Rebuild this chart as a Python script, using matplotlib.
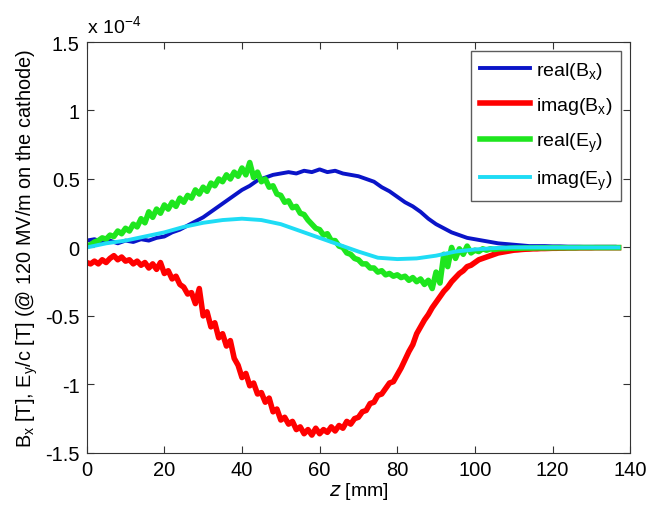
import numpy as np
import matplotlib
matplotlib.use("Agg")
import matplotlib.pyplot as plt
from matplotlib.ticker import FixedLocator, FixedFormatter

plt.rcParams['font.family'] = ['Liberation Sans', 'DejaVu Sans']

# values in units of 1e-4
z_blue = list(range(0, 138, 2))
real_bx = [0.05, 0.06, 0.04, 0.05, 0.03, 0.05, 0.04, 0.06, 0.05, 0.07,
           0.08, 0.11, 0.13, 0.16, 0.19, 0.22, 0.26, 0.30, 0.34, 0.38,
           0.42, 0.45, 0.49, 0.51, 0.53, 0.54, 0.55, 0.54, 0.56, 0.55,
           0.57, 0.55, 0.56, 0.54, 0.53, 0.52, 0.50, 0.48, 0.44, 0.41,
           0.37, 0.33, 0.30, 0.26, 0.21, 0.17, 0.14, 0.11, 0.09, 0.07,
           0.06, 0.05, 0.04, 0.03, 0.025, 0.02, 0.015, 0.01, 0.01, 0.01,
           0.008, 0.008, 0.006, 0.006, 0.005, 0.005, 0.005, 0.005, 0.005]

z_fine = list(range(0, 138))
imag_bx = [-0.11, -0.12, -0.10, -0.12, -0.09, -0.11, -0.08, -0.06, -0.09, -0.07,
           -0.10, -0.09, -0.12, -0.10, -0.13, -0.11, -0.15, -0.12, -0.16, -0.11,
           -0.19, -0.17, -0.23, -0.21, -0.27, -0.29, -0.34, -0.33, -0.41, -0.30,
           -0.50, -0.47, -0.58, -0.55, -0.66, -0.63, -0.72, -0.68, -0.81, -0.86,
           -0.95, -0.92, -1.01, -0.99, -1.07, -1.06, -1.13, -1.10, -1.20, -1.18,
           -1.26, -1.24, -1.29, -1.27, -1.33, -1.31, -1.36, -1.33, -1.37, -1.32,
           -1.36, -1.33, -1.35, -1.31, -1.34, -1.30, -1.32, -1.27, -1.29, -1.25,
           -1.24, -1.20, -1.19, -1.14, -1.13, -1.08, -1.07, -1.03, -0.99, -0.98,
           -0.93, -0.88, -0.82, -0.76, -0.71, -0.63, -0.58, -0.53, -0.49, -0.44,
           -0.40, -0.36, -0.32, -0.29, -0.25, -0.22, -0.19, -0.17, -0.14, -0.13,
           -0.11, -0.09, -0.08, -0.07, -0.06, -0.05, -0.04, -0.035, -0.03, -0.025,
           -0.02, -0.018, -0.015, -0.013, -0.012, -0.01, -0.01, -0.008, -0.008, -0.007,
           -0.006, -0.006, -0.005, -0.005, -0.004, -0.004, -0.004, -0.003, -0.003, -0.003,
           -0.003, -0.002, -0.002, -0.002, -0.002, -0.002, -0.002, -0.002]

real_ey = [0.01, 0.02, 0.04, 0.05, 0.07, 0.06, 0.09, 0.08, 0.12, 0.10,
           0.14, 0.12, 0.17, 0.15, 0.21, 0.18, 0.26, 0.22, 0.28, 0.25,
           0.31, 0.28, 0.33, 0.30, 0.36, 0.33, 0.38, 0.36, 0.42, 0.39,
           0.44, 0.41, 0.47, 0.45, 0.50, 0.48, 0.53, 0.50, 0.55, 0.52,
           0.58, 0.53, 0.62, 0.51, 0.55, 0.48, 0.50, 0.44, 0.45, 0.39,
           0.38, 0.33, 0.34, 0.29, 0.30, 0.25, 0.24, 0.20, 0.17, 0.14,
           0.13, 0.09, 0.10, 0.05, 0.05, 0.01, 0.00, -0.04, -0.05, -0.08,
           -0.09, -0.12, -0.12, -0.15, -0.15, -0.18, -0.17, -0.20, -0.19, -0.21,
           -0.20, -0.22, -0.21, -0.24, -0.22, -0.25, -0.23, -0.27, -0.24, -0.30,
           -0.18, -0.26, -0.05, -0.14, 0.00, -0.08, -0.01, -0.05, 0.01, -0.04,
           -0.02, -0.03, -0.01, -0.02, -0.01, -0.015, -0.01, -0.008, -0.008, -0.006,
           -0.006, -0.005, -0.005, -0.004, -0.004, -0.004, -0.003, -0.003, -0.003, -0.003,
           -0.002, -0.002, -0.002, -0.002, -0.002, -0.002, -0.002, -0.001, -0.001, -0.001,
           -0.001, -0.001, -0.001, -0.001, -0.001, -0.001, -0.001, -0.001]

z_cyan = [0, 5, 10, 15, 20, 25, 30, 35, 40, 45, 50, 55, 60, 65, 70, 75, 80,
          85, 90, 95, 100, 105, 110, 115, 120, 125, 130, 137]
imag_ey = [0.00, 0.03, 0.05, 0.08, 0.11, 0.15, 0.18, 0.20, 0.21, 0.20, 0.17,
           0.12, 0.07, 0.02, -0.03, -0.075, -0.085, -0.08, -0.06, -0.03, -0.015,
           -0.005, 0.0, 0.0, 0.0, 0.0, 0.0, 0.0]

x_ticks = [0, 20, 40, 60, 80, 100, 120, 140]
y_ticks = [-1.5, -1, -0.5, 0, 0.5, 1, 1.5]
y_ticklabels = ['-1.5', '-1', '-0.5', '0', '0.5', '1', '1.5']

fig = plt.figure(figsize=(6.47, 5.06), dpi=100)
ax = fig.add_axes([0.134, 0.103, 0.84, 0.812])

ax.plot(z_blue, real_bx, color='#0a14c8', lw=2.8, label='real(B$_\\mathregular{x}$)')
ax.plot(z_fine, imag_bx, color='#ff0000', lw=4.0, label='imag(B$_\\mathregular{x}$)')
ax.plot(z_fine, real_ey, color='#1ee61e', lw=4.0, label='real(E$_\\mathregular{y}$)')
ax.plot(z_cyan, imag_ey, color='#1edcf5', lw=2.8, label='imag(E$_\\mathregular{y}$)')

ax.set_xlim(0, 140)
ax.set_ylim(-1.5, 1.5)
ax.xaxis.set_major_locator(FixedLocator(x_ticks))
ax.yaxis.set_major_locator(FixedLocator(y_ticks))
ax.yaxis.set_major_formatter(FixedFormatter(y_ticklabels))
ax.tick_params(direction='in', top=True, right=True, length=5, labelsize=14.5,
               color='#333333', pad=5)
for s in ax.spines.values():
    s.set_color('#333333')

ax.set_xlabel('$\\mathit{z}$ [mm]', fontsize=14, labelpad=1)
ax.set_ylabel('B$_\\mathregular{x}$ [T], E$_\\mathregular{y}$/c [T] (@ 120 MV/m on the cathode)',
              fontsize=14.3, labelpad=4)
ax.text(0.0, 1.012, 'x 10$^{\\mathregular{-4}}$', transform=ax.transAxes,
        fontsize=14, ha='left', va='bottom')

leg = ax.legend(loc='upper right', fontsize=14, frameon=True, fancybox=False,
                borderaxespad=0.45, handlelength=2.6, labelspacing=0.75,
                handletextpad=0.3, borderpad=0.45)
leg.get_frame().set_edgecolor('#333333')
leg.get_frame().set_linewidth(1.0)

fig.savefig('out.png', dpi=100)
